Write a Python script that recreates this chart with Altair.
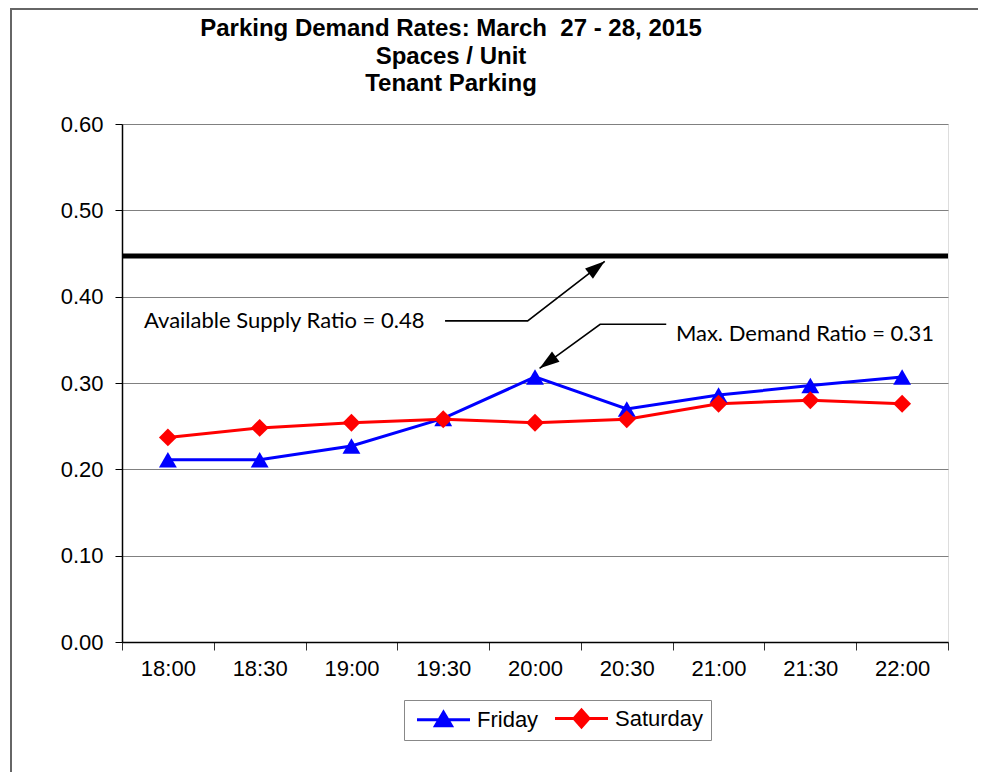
import json
import altair as alt
import pandas as pd

# ---------------- data ----------------
TIMES = ["18:00", "18:30", "19:00", "19:30", "20:00", "20:30", "21:00", "21:30", "22:00"]
FRIDAY = [0.211, 0.211, 0.227, 0.259, 0.307, 0.270, 0.286, 0.297, 0.307]
SATURDAY = [0.237, 0.248, 0.254, 0.258, 0.254, 0.258, 0.276, 0.280, 0.276]
SERIES = ["Friday", "Saturday"]
COLORS = ["#0000FF", "#FF0000"]
SUPPLY = 0.447
Y_TICKS = [0.0, 0.1, 0.2, 0.3, 0.4, 0.5, 0.6]

NOTE_TEXT = ["Available Supply Ratio = 0.48", "Max. Demand Ratio = 0.31"]
NOTE_X = [-0.26, 5.535]
NOTE_Y = [0.372, 0.357]

ARROW_GROUP = ["supply", "supply", "supply", "demand", "demand", "demand"]
ARROW_ORDER = [0, 1, 2, 0, 1, 2]
ARROW_X = [3.02, 3.92, 4.76, 5.43, 4.71, 4.05]
ARROW_Y = [0.372, 0.372, 0.441, 0.368, 0.368, 0.317]

TITLE = ["Parking Demand Rates: March \u00a027 - 28, 2015", "Spaces / Unit", "Tenant Parking"]

# ---------------- frames ----------------
n = len(TIMES)
lines = pd.DataFrame({
    "x": list(range(n)) * 2,
    "y": FRIDAY + SATURDAY,
    "series": [SERIES[0]] * n + [SERIES[1]] * n,
})
notes = pd.DataFrame({"x": NOTE_X, "y": NOTE_Y, "text": NOTE_TEXT})
arrows = pd.DataFrame({"x": ARROW_X, "y": ARROW_Y, "g": ARROW_GROUP, "o": ARROW_ORDER})
heads = arrows[arrows["o"] == 2]
supply = pd.DataFrame({"y": [SUPPLY]})

W, H = 826, 518
HALF = W / n / 2

label_expr = json.dumps(TIMES + [""]) + "[round(datum.value + 0.5)]"

X = alt.X(
    "x:Q",
    scale=alt.Scale(domain=[-0.5, n - 0.5], nice=False, zero=False),
    axis=alt.Axis(
        values=[i - 0.5 for i in range(n + 1)],
        labelExpr=label_expr,
        labelOffset=HALF,
        labelFlush=False,
        labelOverlap=False,
        labelFont="Liberation Sans",
        labelFontSize=22,
        labelColor="black",
        labelPadding=8,
        tickSize=8,
        tickColor="#333333",
        domainColor="black",
        domainWidth=1.5,
        grid=False,
        title=None,
    ),
)
Y = alt.Y(
    "y:Q",
    scale=alt.Scale(domain=[0, 0.6], nice=False),
    axis=alt.Axis(
        values=Y_TICKS,
        format=".2f",
        labelFont="Liberation Sans",
        labelFontSize=22,
        labelColor="black",
        labelPadding=12,
        tickSize=7,
        tickColor="black",
        domainColor="black",
        domainWidth=1.5,
        grid=True,
        gridColor="#808080",
        gridWidth=1,
        title=None,
    ),
)

# legend symbols: a line segment with the series marker on it
PATH_F = "M-0.55,0H4.75M2.1,-0.75L2.9,0.6H1.3Z"
PATH_S = "M-0.55,0H4.75M2.1,-0.85L2.85,0L2.1,0.85L1.35,0Z"

LEG = alt.Legend(
    title=None,
    orient="none",
    legendX=282,
    legendY=576,
    direction="horizontal",
    labelFont="Liberation Sans",
    labelFontSize=22,
    labelColor="black",
    symbolSize=400,
    symbolStrokeWidth=3,
    symbolOpacity=1,
    strokeColor="#888888",
    padding=7,
    columnPadding=10,
    labelOffset=43,
)


def series_layers(name, col, shape):
    src = alt.Chart(lines).transform_filter(alt.datum.series == name)
    ln = src.mark_line(strokeWidth=3, color=col).encode(x=X, y=Y)
    pt = src.mark_point(shape=shape, filled=True, size=320, opacity=1, color=col).encode(x=X, y=Y)
    return ln, pt


line_f, pts_f = series_layers(SERIES[0], COLORS[0], "triangle-up")
line_s, pts_s = series_layers(SERIES[1], COLORS[1], "diamond")

legend_layer = alt.Chart(lines).mark_point(filled=True, opacity=0).encode(
    x=X,
    y=Y,
    fill=alt.Fill("series:N", scale=alt.Scale(domain=SERIES, range=COLORS), legend=LEG),
    stroke=alt.Stroke("series:N", scale=alt.Scale(domain=SERIES, range=COLORS), legend=LEG),
    shape=alt.Shape("series:N", scale=alt.Scale(domain=SERIES, range=[PATH_F, PATH_S]), legend=LEG),
)

supply_rule = alt.Chart(supply).mark_rule(color="black", strokeWidth=5).encode(y=Y)

note_text = alt.Chart(notes).mark_text(
    align="left", baseline="middle", font="Lato", fontSize=22, color="black"
).encode(x=X, y=Y, text="text:N")

arrow_lines = alt.Chart(arrows).mark_line(color="black", strokeWidth=1.6).encode(
    x=X, y=Y, detail="g:N", order="o:Q"
)

HEAD = "M0,0L-0.32,1L0.32,1Z"
head_supply = alt.Chart(heads).transform_filter(alt.datum.g == "supply").mark_point(
    shape=HEAD, filled=True, color="black", size=1600, angle=52, opacity=1
).encode(x=X, y=Y)
head_demand = alt.Chart(heads).transform_filter(alt.datum.g == "demand").mark_point(
    shape=HEAD, filled=True, color="black", size=1600, angle=234, opacity=1
).encode(x=X, y=Y)

title_text = alt.Chart(supply).mark_text(
    align="center", baseline="top", font="Liberation Sans", fontSize=24,
    fontWeight="bold", color="black", lineHeight=27.5,
).encode(x=alt.value(329), y=alt.value(-107), text=alt.value(TITLE))

# thin outer border of the figure (cropped at right and bottom, as in the original)
outer_frame = alt.Chart(supply).mark_rect(fill=None, stroke="#666666", strokeWidth=2).encode(
    x=alt.value(-111), x2=alt.value(W + 80), y=alt.value(-115), y2=alt.value(H + 200)
)

chart = alt.layer(
    outer_frame, supply_rule, line_f, line_s, pts_f, pts_s, legend_layer, arrow_lines,
    head_supply, head_demand, note_text, title_text
).properties(
    width=W,
    height=H,
    autosize=alt.AutoSizeParams(type="none"),
    padding={"left": 114, "top": 116, "right": 30, "bottom": 130},
).configure_view(stroke="#888888", strokeWidth=2).configure(background="white")

chart.save("out.html", embed_options={"renderer": "svg", "actions": False})
